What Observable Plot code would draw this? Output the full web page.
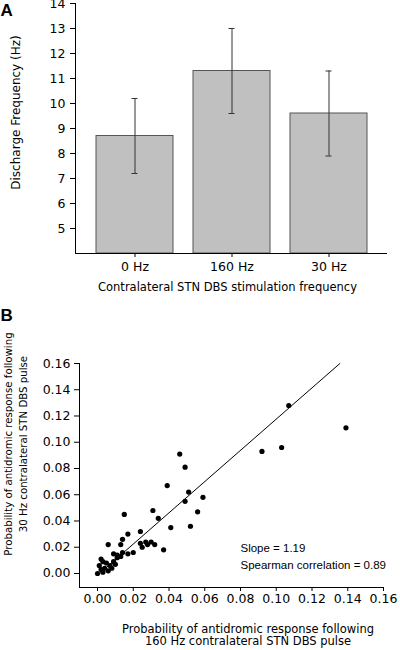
<!DOCTYPE html>
<html><head><meta charset="utf-8">
<script src="https://cdn.jsdelivr.net/npm/d3@7"></script>
<script src="https://cdn.jsdelivr.net/npm/@observablehq/plot@0.6"></script>
<style>body{margin:0;background:#fff} #chart svg{display:block}</style>
</head><body><div id="chart"></div>
<script>
// Panel A data
const categories = ["0 Hz", "160 Hz", "30 Hz"];
const meanRate = [8.7, 11.3, 9.6];
const errLow = [7.2, 9.6, 7.9];
const errHigh = [10.2, 13.0, 11.3];
const rateTicks = [5, 6, 7, 8, 9, 10, 11, 12, 13, 14];
const rateBase = 4;
const rateTop = 14;

// Panel B data
const prob160 = [0.107, 0.139, 0.092, 0.103, 0.059, 0.046, 0.049, 0.039, 0.051, 0.049,
  0.056, 0.052, 0.041, 0.031, 0.034, 0.015, 0.024, 0.017, 0.014, 0.013,
  0.006, 0.024, 0.027, 0.030, 0.032, 0.025, 0.037, 0.020, 0.014, 0.017,
  0.009, 0.011, 0.002, 0.028, 0.000, 0.002, 0.001, 0.004, 0.005, 0.003,
  0.007, 0.009, 0.006, 0.011, 0.008, 0.003, 0.010, 0.013];
const prob30 = [0.128, 0.111, 0.093, 0.096, 0.058, 0.091, 0.081, 0.067, 0.062, 0.055,
  0.047, 0.036, 0.035, 0.048, 0.042, 0.045, 0.032, 0.030, 0.026, 0.022,
  0.022, 0.023, 0.024, 0.024, 0.022, 0.020, 0.018, 0.016, 0.016, 0.015,
  0.015, 0.014, 0.011, 0.022, 0.000, 0.003, 0.006, 0.004, 0.008, 0.001,
  0.006, 0.009, 0.002, 0.012, 0.004, 0.009, 0.007, 0.013];
const probTicks = [0, 0.02, 0.04, 0.06, 0.08, 0.10, 0.12, 0.14, 0.16];
const fitX = [0.002, 0.1356];
const fitY = [0.001, 0.160];
const annotation = ["Slope = 1.19", "Spearman correlation = 0.89"];
const xTitleB = ["Probability of antidromic response following", "160 Hz contralateral STN DBS pulse"];
const yTitleB = ["Probability of antidromic response following", "30 Hz contralateral STN DBS pulse"];

const bars = categories.map((c, i) => ({c, v: meanRate[i], lo: errLow[i], hi: errHigh[i]}));
const baseStyle = {fontFamily: "DejaVu Sans", fontSize: "12.5px", color: "#000", background: "#fff", overflow: "visible"};

const A = Plot.plot({
  width: 400, height: 300,
  marginLeft: 75, marginRight: 13, marginTop: 3, marginBottom: 47,
  style: baseStyle,
  x: {domain: categories, padding: 0.21, label: null, tickSize: 4, tickPadding: 5},
  y: {domain: [rateBase, rateTop], ticks: rateTicks, label: null, tickSize: 5, tickPadding: 5, line: true},
  marks: [
    Plot.barY(bars, {x: "c", y1: rateBase, y2: "v", fill: "#c0c0c0", stroke: "#555", strokeWidth: 1}),
    Plot.ruleX(bars, {x: "c", y1: "lo", y2: "hi", stroke: "#333"}),
    Plot.tickY(bars, {x: "c", y: "lo", insetLeft: 35.5, insetRight: 35.5, stroke: "#333"}),
    Plot.tickY(bars, {x: "c", y: "hi", insetLeft: 35.5, insetRight: 35.5, stroke: "#333"}),
    Plot.ruleY([rateBase]),
    Plot.text(["A"], {text: d => d, frameAnchor: "top-left", dx: -75, dy: 0, textAnchor: "start", lineAnchor: "top", fontWeight: "bold", fontSize: 17, fontFamily: "Liberation Sans"}),
    Plot.text(["Discharge Frequency (Hz)"], {text: d => d, frameAnchor: "left", textAnchor: "middle", lineAnchor: "middle", rotate: -90, dx: -59, dy: -16, fontSize: 12}),
    Plot.text(["Contralateral STN DBS stimulation frequency"], {text: d => d, frameAnchor: "bottom", textAnchor: "middle", lineAnchor: "middle", dx: -4, dy: 34, fontSize: 11.5})
  ]
});

const pts = prob160.map((x, i) => ({x, y: prob30[i]}));
const fit = fitX.map((x, i) => ({x, y: fitY[i]}));

const B = Plot.plot({
  width: 400, height: 350,
  marginLeft: 79, marginRight: 17, marginTop: 63, marginBottom: 63,
  style: baseStyle,
  x: {domain: [-0.01007, 0.16], ticks: probTicks, tickFormat: ".2f", tickSize: 4, tickPadding: 3, line: true, label: null},
  y: {domain: [-0.01067, 0.16], ticks: probTicks, tickFormat: ".2f", tickSize: 5, tickPadding: 4, line: true, label: null},
  marks: [
    Plot.dot(pts, {x: "x", y: "y", r: 2.6, fill: "#000"}),
    Plot.line(fit, {x: "x", y: "y", stroke: "#000", strokeWidth: 1}),
    Plot.text(["B"], {text: d => d, frameAnchor: "top-left", dx: -79, dy: -55, textAnchor: "start", lineAnchor: "top", fontWeight: "bold", fontSize: 17, fontFamily: "Liberation Sans"}),
    Plot.text([yTitleB.join("\n")], {text: d => d, frameAnchor: "left", textAnchor: "middle", lineAnchor: "middle", rotate: -90, dx: -64.5, dy: -31.5, fontSize: 10.2, lineHeight: 1.45}),
    Plot.text([xTitleB.join("\n")], {text: d => d, frameAnchor: "bottom", textAnchor: "middle", lineAnchor: "middle", dx: 16.5, dy: 47.5, fontSize: 11.5, lineHeight: 1.05}),
    Plot.text([annotation.join("\n")], {text: d => d, frameAnchor: "left", textAnchor: "start", lineAnchor: "middle", dx: 161, dy: 79.5, fontFamily: "Liberation Sans", fontSize: 11.5, lineHeight: 1.48})
  ]
});

document.getElementById("chart").append(A, B);
</script>
</body></html>
